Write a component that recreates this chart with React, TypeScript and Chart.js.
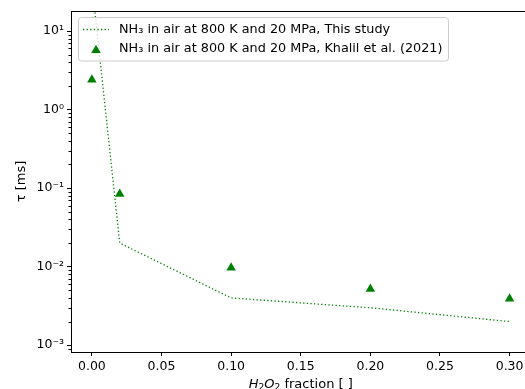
import React, { useEffect, useRef } from "react";
import { Chart, registerables } from "chart.js";

Chart.register(...registerables);

// ---- data ----
const xValues = [0, 0.02, 0.1, 0.2, 0.3];
const thisStudy = [40, 0.02, 0.004, 0.003, 0.002];
const khalil = [2.4, 0.084, 0.0097, 0.0052, 0.0039];
const xTicks = [0, 0.05, 0.1, 0.15, 0.2, 0.25, 0.3];
const yMajorTicks = [1e-3, 1e-2, 1e-1, 1, 10];
const yTickLabels = ["10⁻³", "10⁻²", "10⁻¹", "10⁰", "10¹"];
const seriesLabels = [
  "NH₃ in air at 800 K and 20 MPa, This study",
  "NH₃ in air at 800 K and 20 MPa, Khalil et al. (2021)",
];
// x title pieces: [text, italic, subscript]
const xTitleParts: [string, boolean, boolean][] = [
  ["H", true, false],
  ["2", false, true],
  ["O", true, false],
  ["2", false, true],
  [" fraction [ ]", false, false],
];
const yTitle = "τ [ms]";

const GREEN = "#008000";
const FONT = "'DejaVu Sans', sans-serif";
const FS = 12.5;
const TFS = 13;

const decorPlugin = {
  id: "decor",
  afterDraw(chart: any) {
    const { ctx, chartArea } = chart;
    const ys = chart.scales.y;
    ctx.save();
    ctx.strokeStyle = "#000";
    ctx.lineWidth = 1;
    ctx.beginPath();
    ctx.moveTo(chartArea.left, Math.round(chartArea.top) + 0.5);
    ctx.lineTo(chartArea.right, Math.round(chartArea.top) + 0.5);
    ctx.stroke();
    for (let e = -4; e <= 1; e++) {
      for (let m = 2; m <= 9; m++) {
        const v = m * Math.pow(10, e);
        if (v < ys.min || v > ys.max) continue;
        const py = Math.round(ys.getPixelForValue(v)) + 0.5;
        ctx.beginPath();
        ctx.moveTo(chartArea.left - 2.5, py);
        ctx.lineTo(chartArea.left, py);
        ctx.stroke();
      }
    }
    // x axis title with italic / subscript pieces
    const fontFor = (it: boolean, sub: boolean) =>
      `${it ? "italic " : ""}${sub ? TFS * 0.7 : TFS}px ${FONT}`;
    let total = 0;
    for (const [t, it, sub] of xTitleParts) {
      ctx.font = fontFor(it, sub);
      total += ctx.measureText(t).width;
    }
    let cx = (chartArea.left + chartArea.right) / 2 - total / 2;
    const baseY = 387.5;
    ctx.fillStyle = "#000";
    ctx.textBaseline = "alphabetic";
    ctx.textAlign = "left";
    for (const [t, it, sub] of xTitleParts) {
      ctx.font = fontFor(it, sub);
      ctx.fillText(t, cx, baseY + (sub ? 2.5 : 0));
      cx += ctx.measureText(t).width;
    }
    // legend
    ctx.font = `12px ${FONT}`;
    const base = Math.max(...seriesLabels.map((s) => ctx.measureText(s).width));
    const lfs = (12 * 324) / base;
    ctx.font = `${lfs}px ${FONT}`;
    const textX = 119;
    const w = Math.max(...seriesLabels.map((s) => ctx.measureText(s).width));
    const lx = 78.5, ly = 17.5, lw = textX + w + 6 - lx, lh = 43.5;
    const r = 3;
    ctx.beginPath();
    ctx.moveTo(lx + r, ly);
    ctx.lineTo(lx + lw - r, ly);
    ctx.arcTo(lx + lw, ly, lx + lw, ly + r, r);
    ctx.lineTo(lx + lw, ly + lh - r);
    ctx.arcTo(lx + lw, ly + lh, lx + lw - r, ly + lh, r);
    ctx.lineTo(lx + r, ly + lh);
    ctx.arcTo(lx, ly + lh, lx, ly + lh - r, r);
    ctx.lineTo(lx, ly + r);
    ctx.arcTo(lx, ly, lx + r, ly, r);
    ctx.closePath();
    ctx.fillStyle = "rgba(255,255,255,0.8)";
    ctx.fill();
    ctx.strokeStyle = "#cccccc";
    ctx.stroke();
    const ds0 = chart.data.datasets[0];
    const ds1 = chart.data.datasets[1];
    const r1 = 29.5;
    ctx.strokeStyle = ds0.borderColor;
    ctx.lineWidth = ds0.borderWidth;
    ctx.setLineDash(ds0.borderDash);
    ctx.beginPath();
    ctx.moveTo(83, r1);
    ctx.lineTo(109, r1);
    ctx.stroke();
    ctx.setLineDash([]);
    const r2 = 49;
    const rad = ds1.pointRadius;
    ctx.fillStyle = ds1.backgroundColor;
    ctx.beginPath();
    for (let k = 0; k < 3; k++) {
      const a = (k * 2 * Math.PI) / 3;
      const px = 96 + Math.sin(a) * rad;
      const py = r2 + 1.2 - Math.cos(a) * rad;
      if (k === 0) ctx.moveTo(px, py);
      else ctx.lineTo(px, py);
    }
    ctx.closePath();
    ctx.fill();
    ctx.fillStyle = "#000";
    ctx.textBaseline = "middle";
    ctx.textAlign = "left";
    ctx.fillText(seriesLabels[0], textX, r1);
    ctx.fillText(seriesLabels[1], textX, r2);
    ctx.restore();
  },
};

export default function App() {
  const ref = useRef<HTMLCanvasElement | null>(null);
  useEffect(() => {
    if (!ref.current) return;
    Chart.defaults.font.family = FONT;
    Chart.defaults.font.size = FS;
    Chart.defaults.color = "#000";
    const chart = new Chart(ref.current, {
      type: "scatter",
      data: {
        datasets: [
          {
            label: seriesLabels[0],
            data: xValues.map((x, i) => ({ x, y: thisStudy[i] })),
            showLine: true,
            borderColor: GREEN,
            borderWidth: 1.3,
            borderDash: [1.3, 2.3],
            pointRadius: 0,
            fill: false,
            tension: 0,
            order: 1,
          },
          {
            label: seriesLabels[1],
            data: xValues.map((x, i) => ({ x, y: khalil[i] })),
            showLine: false,
            pointStyle: "triangle",
            pointRadius: 5.5,
            backgroundColor: GREEN,
            borderColor: GREEN,
            borderWidth: 0,
            order: 0,
          },
        ],
      },
      options: {
        responsive: false,
        animation: false,
        events: [],
        layout: { padding: { top: 11, right: 1, left: 0, bottom: 0 } },
        plugins: { legend: { display: false }, tooltip: { enabled: false } },
        scales: {
          x: {
            type: "linear",
            min: -0.015,
            max: 0.315,
            afterBuildTicks: (s: any) => {
              s.ticks = xTicks.map((v) => ({ value: v }));
            },
            afterFit: (s: any) => {
              s.height = 37;
            },
            ticks: {
              autoSkip: false,
              maxRotation: 0,
              padding: 3,
              callback: (v: any) => Number(v).toFixed(2),
            },
            grid: { drawOnChartArea: false, drawTicks: true, tickLength: 4, color: "#000" },
            border: { display: true, color: "#000", width: 1 },
            title: { display: false },
          },
          y: {
            type: "logarithmic",
            min: 8.2e-4,
            max: 18,
            afterBuildTicks: (s: any) => {
              s.ticks = yMajorTicks.map((v) => ({ value: v }));
            },
            afterFit: (s: any) => {
              s.width = 71;
            },
            ticks: {
              autoSkip: false,
              padding: 3,
              callback: (_v: any, i: number) => yTickLabels[i],
            },
            grid: { drawOnChartArea: false, drawTicks: true, tickLength: 4, color: "#000" },
            border: { display: true, color: "#000", width: 1 },
            title: { display: true, text: yTitle, font: { size: TFS }, padding: { top: 14, bottom: 0 } },
          },
        },
      },
      plugins: [decorPlugin],
    } as any);
    return () => chart.destroy();
  }, []);
  return (
    <div style={{ position: "fixed", left: 0, top: 0, width: 525, height: 389, overflow: "hidden", background: "#fff" }}>
      <canvas ref={ref} width={536} height={389} style={{ display: "block" }} />
    </div>
  );
}
